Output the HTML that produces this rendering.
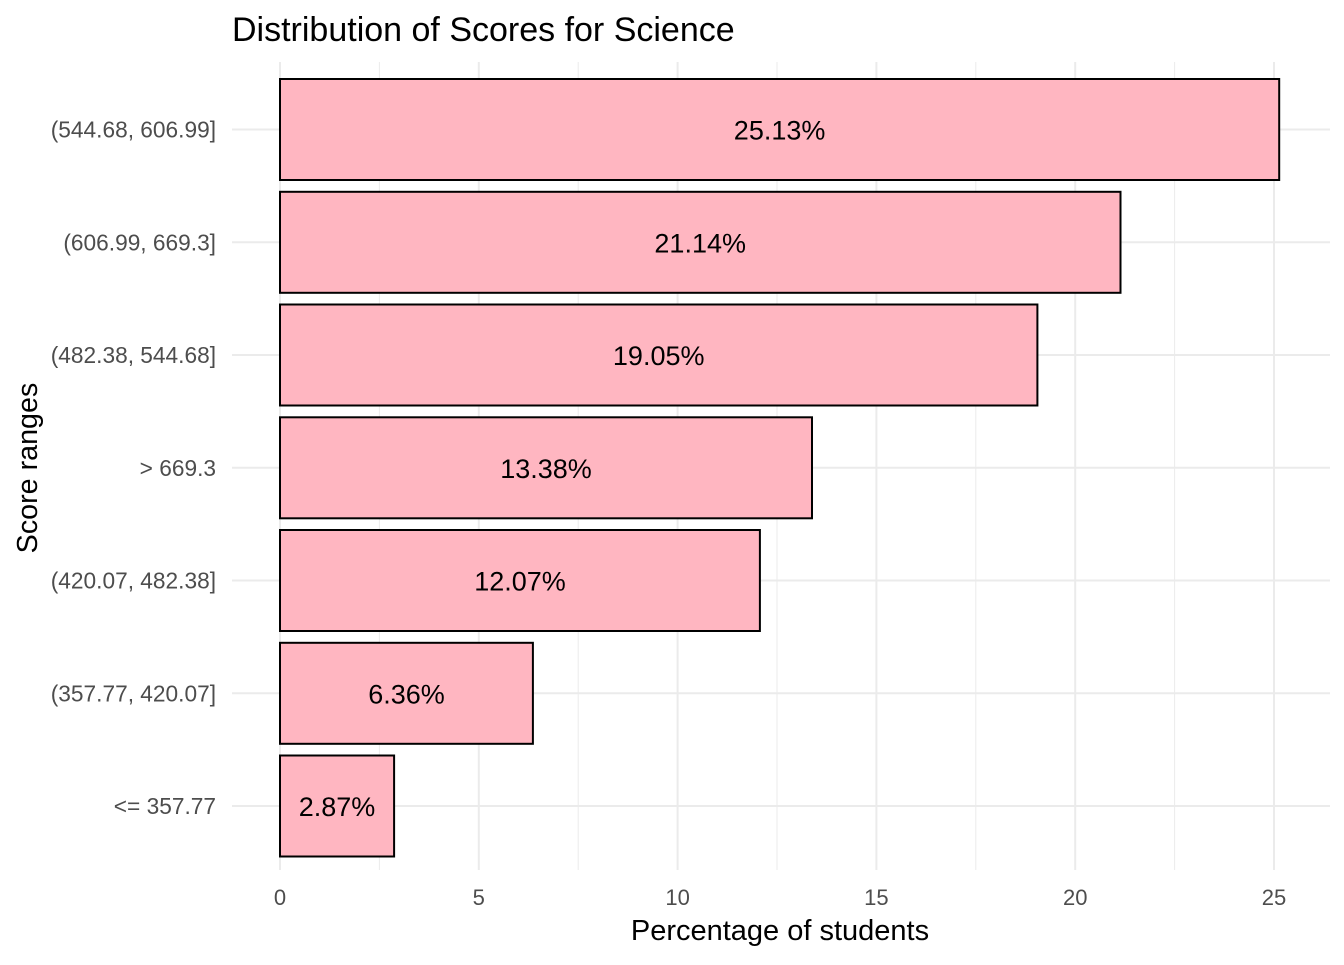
<!DOCTYPE html>
<html><head><meta charset="utf-8"><style>html,body{margin:0;padding:0;background:#fff}</style></head>
<body>
<svg width="1344" height="960" xmlns="http://www.w3.org/2000/svg" font-family="Liberation Sans, Arial, sans-serif">
<rect width="1344" height="960" fill="#fff"/>
<g stroke="#ebebeb" stroke-width="1">
<line x1="379.4" y1="62" x2="379.4" y2="870"/>
<line x1="578.2" y1="62" x2="578.2" y2="870"/>
<line x1="777" y1="62" x2="777" y2="870"/>
<line x1="975.8" y1="62" x2="975.8" y2="870"/>
<line x1="1174.6" y1="62" x2="1174.6" y2="870"/>
</g>
<g stroke="#ebebeb" stroke-width="2">
<line x1="280" y1="62" x2="280" y2="870"/>
<line x1="478.8" y1="62" x2="478.8" y2="870"/>
<line x1="677.6" y1="62" x2="677.6" y2="870"/>
<line x1="876.4" y1="62" x2="876.4" y2="870"/>
<line x1="1075.2" y1="62" x2="1075.2" y2="870"/>
<line x1="1274" y1="62" x2="1274" y2="870"/>
<line x1="232" y1="129.5" x2="1330" y2="129.5"/>
<line x1="232" y1="242.3" x2="1330" y2="242.3"/>
<line x1="232" y1="355" x2="1330" y2="355"/>
<line x1="232" y1="467.8" x2="1330" y2="467.8"/>
<line x1="232" y1="580.5" x2="1330" y2="580.5"/>
<line x1="232" y1="693.3" x2="1330" y2="693.3"/>
<line x1="232" y1="806" x2="1330" y2="806"/>
</g>
<g fill="#ffb6c1" stroke="#000" stroke-width="2">
<rect x="280" y="79" width="999.2" height="101"/>
<rect x="280" y="191.8" width="840.5" height="101"/>
<rect x="280" y="304.5" width="757.4" height="101"/>
<rect x="280" y="417.3" width="532" height="101"/>
<rect x="280" y="530" width="479.9" height="101"/>
<rect x="280" y="642.8" width="252.9" height="101"/>
<rect x="280" y="755.5" width="114.1" height="101"/>
</g>
<g font-size="27" text-anchor="middle" fill="#000">
<text x="779.6" y="139.5">25.13%</text>
<text x="700.2" y="252.3">21.14%</text>
<text x="658.7" y="365">19.05%</text>
<text x="546" y="477.8">13.38%</text>
<text x="520" y="590.5">12.07%</text>
<text x="406.5" y="703.3">6.36%</text>
<text x="337" y="816">2.87%</text>
</g>
<g font-size="22.7" text-anchor="end" fill="#4d4d4d">
<text x="216" y="137.5">(544.68, 606.99]</text>
<text x="216" y="250.3">(606.99, 669.3]</text>
<text x="216" y="363">(482.38, 544.68]</text>
<text x="216" y="475.8">&gt; 669.3</text>
<text x="216" y="588.5">(420.07, 482.38]</text>
<text x="216" y="701.3">(357.77, 420.07]</text>
<text x="216" y="814">&lt;= 357.77</text>
</g>
<g font-size="22" text-anchor="middle" fill="#4d4d4d">
<text x="280" y="905">0</text>
<text x="478.8" y="905">5</text>
<text x="677.6" y="905">10</text>
<text x="876.4" y="905">15</text>
<text x="1075.2" y="905">20</text>
<text x="1274" y="905">25</text>
</g>
<text x="780" y="940" font-size="29" text-anchor="middle" fill="#000">Percentage of students</text>
<text transform="translate(37,468) rotate(-90)" font-size="28.7" text-anchor="middle" fill="#000">Score ranges</text>
<text x="232" y="41" font-size="34" fill="#000">Distribution of Scores for Science</text>
</svg>
</body></html>
